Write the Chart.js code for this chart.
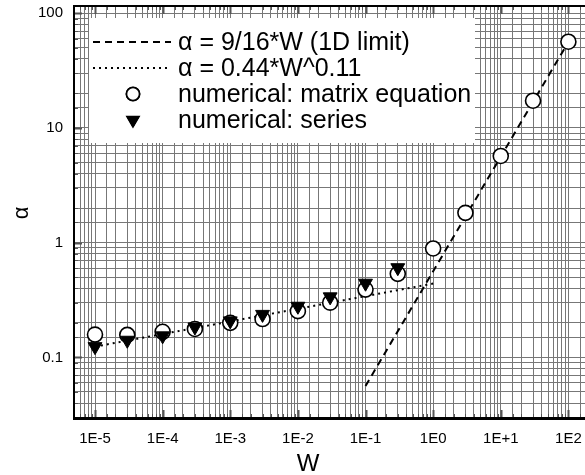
<!DOCTYPE html>
<html>
<head>
<meta charset="utf-8">
<script src="https://cdn.jsdelivr.net/npm/chart.js@4/dist/chart.umd.min.js"></script>
<style>
  html, body { margin: 0; padding: 0; background: #fff; overflow: hidden; }
  #wrap { position: relative; width: 585px; height: 475px; }
  canvas { display: block; }
</style>
</head>
<body>
<div id="wrap"><canvas id="chart"></canvas></div>
<script>
// values
const wMatrix = [1e-5, 3e-5, 1e-4, 3e-4, 1e-3, 3e-3, 1e-2, 3e-2, 1e-1, 3e-1, 1, 3, 10, 30, 100];
const alphaMatrix = [0.158, 0.157, 0.167, 0.177, 0.200, 0.216, 0.253, 0.300, 0.390, 0.535, 0.89, 1.82, 5.7, 17.3, 56.5];
const wSeries = [1e-5, 3e-5, 1e-4, 3e-4, 1e-3, 3e-3, 1e-2, 3e-2, 1e-1, 3e-1];
const alphaSeries = [0.124, 0.141, 0.154, 0.184, 0.208, 0.237, 0.279, 0.337, 0.443, 0.605];
const wLimit = [0.1, 100];
const alphaLimit = [0.0563, 56.3];
const wFit = [1e-5, 1];
const alphaFit = [0.124, 0.44];

const legendLabels = ['\u03b1 = 9/16*W (1D limit)', '\u03b1 = 0.44*W^0.11', 'numerical: matrix equation', 'numerical: series'];
const xTickValues = [1e-5, 1e-4, 1e-3, 1e-2, 1e-1, 1, 10, 100];
const xTickLabels = ['1E-5', '1E-4', '1E-3', '1E-2', '1E-1', '1E0', '1E+1', '1E2'];
const yTickValues = [0.1, 1, 10, 100];
const yTickLabels = ['0.1', '1', '10', '100'];

const FONT = '"Liberation Sans", Arial, Helvetica, sans-serif';
const GRID = '#777';
const toPts = (xs, ys) => xs.map((x, i) => ({ x, y: ys[i] }));
const labelFor = (vals, labs) => v => {
  const i = vals.findIndex(t => Math.abs(Math.log10(v) - Math.log10(t)) < 1e-6);
  return i < 0 ? '' : labs[i];
};
const noPad = s => { s.paddingLeft = s.paddingRight = s.paddingTop = s.paddingBottom = 0; };

// white legend box inside the plot, frame, inward ticks, axis titles
const boxLegend = {
  id: 'boxLegend',
  beforeDatasetsDraw(chart) {
    const { ctx, chartArea: a } = chart;
    const bx = a.left + 15, by = a.top + 12;
    ctx.save();
    ctx.fillStyle = '#fff';
    ctx.fillRect(bx, by, 386, 125);
    ctx.font = '25px ' + FONT;
    ctx.textBaseline = 'middle';
    chart.data.datasets.forEach((ds, i) => {
      const y = by + 24 + i * 26;
      if (ds.showLine) {
        ctx.strokeStyle = '#000';
        ctx.lineWidth = ds.borderWidth;
        ctx.setLineDash(ds.borderDash);
        ctx.beginPath();
        ctx.moveTo(bx + 4, y);
        ctx.lineTo(bx + 82, y);
        ctx.stroke();
        ctx.setLineDash([]);
      } else {
        Chart.helpers.drawPoint(ctx, {
          pointStyle: ds.pointStyle, rotation: ds.rotation || 0,
          radius: ds.pointRadius - 1, borderWidth: ds.borderWidth
        }, bx + 44, y);
        ctx.fillStyle = ds.backgroundColor;
        ctx.strokeStyle = ds.borderColor;
        ctx.lineWidth = ds.borderWidth;
        ctx.fill();
        ctx.stroke();
      }
      ctx.fillStyle = '#000';
      ctx.fillText(legendLabels[i], bx + 89, y + 1);
    });
    ctx.restore();
  },
  afterDraw(chart) {
    const { ctx, chartArea: a, scales } = chart;
    ctx.save();
    ctx.strokeStyle = '#555';
    scales.x.ticks.forEach(t => {
      const px = Math.round(scales.x.getPixelForValue(t.value)) + 0.5;
      const len = t.major ? 8 : 4;
      ctx.lineWidth = t.major ? 2 : 1;
      ctx.beginPath();
      ctx.moveTo(px, a.bottom); ctx.lineTo(px, a.bottom - len);
      ctx.moveTo(px, a.top); ctx.lineTo(px, a.top + len);
      ctx.stroke();
    });
    scales.y.ticks.forEach(t => {
      const py = Math.round(scales.y.getPixelForValue(t.value)) + 0.5;
      const len = t.major ? 8 : 4;
      ctx.lineWidth = t.major ? 2 : 1;
      ctx.beginPath();
      ctx.moveTo(a.left, py); ctx.lineTo(a.left + len, py);
      ctx.stroke();
    });
    ctx.strokeStyle = '#000';
    ctx.lineWidth = 2;
    ctx.beginPath();
    ctx.moveTo(a.right + 2, a.top);
    ctx.lineTo(a.left, a.top);
    ctx.lineTo(a.left, a.bottom);
    ctx.stroke();
    ctx.lineWidth = 3;
    ctx.beginPath();
    ctx.moveTo(a.left - 1, a.bottom + 0.5);
    ctx.lineTo(a.right + 2, a.bottom + 0.5);
    ctx.stroke();
    ctx.fillStyle = '#000';
    ctx.textAlign = 'center';
    ctx.textBaseline = 'middle';
    ctx.font = '24px ' + FONT;
    ctx.fillText('W', 308, 464);
    ctx.font = '22px ' + FONT;
    ctx.translate(22, 213);
    ctx.rotate(-Math.PI / 2);
    ctx.fillText('\u03b1', 0, 0);
    ctx.restore();
  }
};

new Chart(document.getElementById('chart'), {
  type: 'scatter',
  data: {
    datasets: [
      {
        label: legendLabels[0], data: toPts(wLimit, alphaLimit), showLine: true,
        borderColor: '#000', borderWidth: 2, borderDash: [7, 5], pointRadius: 0, order: 4
      },
      {
        label: legendLabels[1], data: toPts(wFit, alphaFit), showLine: true,
        borderColor: '#000', borderWidth: 2, borderDash: [2, 4], pointRadius: 0, order: 3
      },
      {
        label: legendLabels[2], data: toPts(wMatrix, alphaMatrix), showLine: false,
        pointStyle: 'circle', pointRadius: 7.5, backgroundColor: '#fff', borderColor: '#000',
        borderWidth: 1.6, order: 2
      },
      {
        label: legendLabels[3], data: toPts(wSeries, alphaSeries), showLine: false,
        pointStyle: 'triangle', rotation: 180, pointRadius: 8, backgroundColor: '#000',
        borderColor: '#000', borderWidth: 1, order: 1
      }
    ]
  },
  options: {
    responsive: true,
    maintainAspectRatio: false,
    animation: false,
    layout: { autoPadding: false, padding: { top: 6, right: 0, left: 0, bottom: 0 } },
    plugins: { legend: { display: false }, tooltip: { enabled: false } },
    scales: {
      x: {
        type: 'logarithmic', min: 4.89e-6, max: 176,
        afterFit: s => { s.height = 57; noPad(s); },
        grid: {
          color: c => (c.tick && c.tick.value > 150 ? 'rgba(0,0,0,0)' : GRID),
          lineWidth: 1, drawTicks: true, tickLength: 12, tickColor: 'rgba(0,0,0,0)'
        },
        border: { display: false },
        ticks: {
          autoSkip: false, maxRotation: 0, padding: 0, color: '#000',
          font: { family: FONT, size: 15 },
          callback: labelFor(xTickValues, xTickLabels)
        }
      },
      y: {
        type: 'logarithmic', min: 0.0296, max: 115.8,
        afterFit: s => { s.width = 74; noPad(s); },
        grid: { color: GRID, lineWidth: 1, drawTicks: true, tickLength: 11, tickColor: 'rgba(0,0,0,0)' },
        border: { display: false },
        ticks: {
          autoSkip: false, padding: 0, color: '#000',
          font: { family: FONT, size: 15 },
          callback: labelFor(yTickValues, yTickLabels)
        }
      }
    }
  },
  plugins: [boxLegend]
});
</script>
</body>
</html>
